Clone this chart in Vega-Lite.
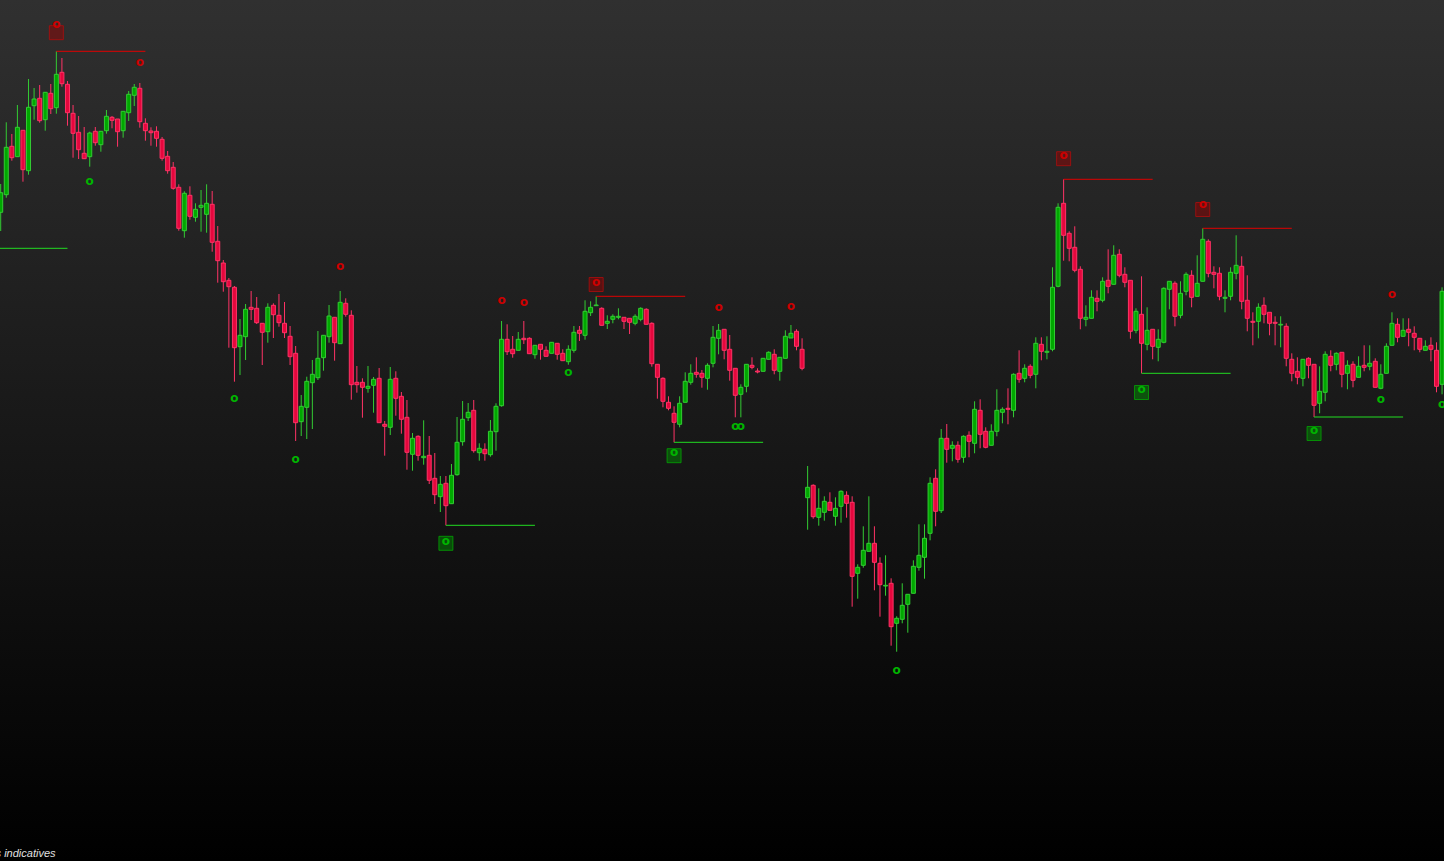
{
"$schema":"https://vega.github.io/schema/vega-lite/v6.json",
"width":1444,"height":861,"autosize":{"type":"none"},"padding":0,
"background":"#000000",
"view":{"stroke":null,"fill":{"gradient":"linear","x1":0,"y1":0,"x2":0,"y2":1,"stops":[{"offset":0,"color":"#303030"},{"offset":1,"color":"#000000"}]}},
"datasets":{
"candles":[
{"i":1,"o":787.7,"h":816,"l":769,"c":807.3},{"i":2,"o":805.3,"h":877.7,"l":802.3,"c":852.7},{"i":3,"o":853.7,"h":866,"l":839.3,"c":842.3},{"i":4,"o":843.3,"h":895,"l":843.3,"c":872.7},{"i":5,"o":869.7,"h":869.7,"l":818.3,"c":830.3},{"i":6,"o":829.3,"h":921,"l":825.3,"c":892.7},{"i":7,"o":894.3,"h":912,"l":880.3,"c":901},{"i":8,"o":901.7,"h":915,"l":877.3,"c":879.3},{"i":9,"o":880.3,"h":907.7,"l":869.3,"c":907.7},{"i":10,"o":906.7,"h":916,"l":886,"c":891.3},
{"i":11,"o":892.3,"h":948.7,"l":886.3,"c":925.7},{"i":12,"o":927.7,"h":942,"l":913.3,"c":916.3},{"i":13,"o":915.7,"h":919,"l":874.3,"c":887.3},{"i":14,"o":886.7,"h":895,"l":842.3,"c":866.7},{"i":15,"o":867.7,"h":884,"l":841,"c":850.3},{"i":16,"o":846.7,"h":873,"l":841.3,"c":841.3},{"i":17,"o":843.3,"h":868.3,"l":833.3,"c":867},{"i":18,"o":868.7,"h":873,"l":854.3,"c":857.3},{"i":19,"o":855.3,"h":868.7,"l":848.3,"c":868.7},{"i":20,"o":869.3,"h":890,"l":866.3,"c":883.7},
{"i":21,"o":882.7,"h":884,"l":871.7,"c":879.7},{"i":22,"o":881,"h":881,"l":853.3,"c":868.3},{"i":23,"o":869.3,"h":888.7,"l":862.3,"c":888.7},{"i":24,"o":887.3,"h":909,"l":879,"c":905.7},{"i":25,"o":904.7,"h":916,"l":894,"c":912.7},{"i":26,"o":911.7,"h":917,"l":872.3,"c":878.3},{"i":27,"o":876.7,"h":881.7,"l":859.3,"c":869.3},{"i":28,"o":869,"h":872.7,"l":854.3,"c":867.3},{"i":29,"o":868.7,"h":873.7,"l":853.3,"c":861.7},{"i":30,"o":860.7,"h":863,"l":839.3,"c":841.7},
{"i":31,"o":843.7,"h":849,"l":826.3,"c":829.3},{"i":32,"o":832.7,"h":838,"l":810.3,"c":811.7},{"i":33,"o":812.7,"h":815.7,"l":769.3,"c":771.7},{"i":34,"o":769.3,"h":808.7,"l":762.3,"c":806.7},{"i":35,"o":804.7,"h":813.7,"l":780.3,"c":783.7},{"i":36,"o":782.7,"h":796.7,"l":778.3,"c":790.7},{"i":37,"o":792.7,"h":810,"l":768.3,"c":794.7},{"i":38,"o":785.7,"h":815.7,"l":767.3,"c":796.7},{"i":39,"o":795.7,"h":809,"l":748.3,"c":757.7},{"i":40,"o":758.7,"h":774,"l":717.3,"c":739.3},
{"i":41,"o":737,"h":740,"l":708.3,"c":718.3},{"i":42,"o":719.7,"h":722,"l":652.3,"c":713.3},{"i":43,"o":712.7,"h":714,"l":618.3,"c":652.3},{"i":44,"o":653.3,"h":681,"l":625,"c":664.7},{"i":45,"o":663.3,"h":696,"l":640,"c":690.7},{"i":46,"o":692.7,"h":709,"l":680,"c":690.7},{"i":47,"o":691.7,"h":703,"l":676,"c":677.3},{"i":48,"o":676.7,"h":676.7,"l":635,"c":667.7},{"i":49,"o":668.3,"h":696.7,"l":657.3,"c":692.7},{"i":50,"o":694.7,"h":696.7,"l":662,"c":685.3},
{"i":51,"o":684.7,"h":706,"l":673.3,"c":677.3},{"i":52,"o":676.7,"h":698,"l":662,"c":667.3},{"i":53,"o":663.7,"h":674,"l":635,"c":643.3},{"i":54,"o":646.7,"h":654,"l":559,"c":577.3},{"i":55,"o":578.3,"h":605,"l":564,"c":593.7},{"i":56,"o":592.7,"h":623.3,"l":561,"c":618.7},{"i":57,"o":617.3,"h":640,"l":571,"c":625.7},{"i":58,"o":622.3,"h":669,"l":620,"c":641.7},{"i":59,"o":642.3,"h":664.7,"l":629.3,"c":664.7},{"i":60,"o":663.3,"h":695,"l":657.3,"c":684},
{"i":61,"o":682.7,"h":682.7,"l":639.3,"c":657.3},{"i":62,"o":656.3,"h":709,"l":656.3,"c":697.7},{"i":63,"o":696.7,"h":701.7,"l":683.3,"c":685.7},{"i":64,"o":684.7,"h":689.7,"l":600.3,"c":615.3},{"i":65,"o":617.7,"h":634,"l":607.3,"c":615.3},{"i":66,"o":617.7,"h":621.7,"l":582.3,"c":612.7},{"i":67,"o":611.7,"h":634,"l":607.3,"c":613.7},{"i":68,"o":614.7,"h":623,"l":587.3,"c":620.7},{"i":69,"o":621.7,"h":632,"l":577.3,"c":577.3},{"i":70,"o":575.7,"h":579,"l":544.3,"c":573.7},
{"i":71,"o":572.7,"h":633,"l":565,"c":620.7},{"i":72,"o":621.7,"h":628.7,"l":584.3,"c":601.7},{"i":73,"o":603.7,"h":608,"l":566.3,"c":580.7},{"i":74,"o":582.7,"h":600,"l":530.3,"c":547.7},{"i":75,"o":545.7,"h":567,"l":529.3,"c":561.7},{"i":76,"o":563.7,"h":564.7,"l":539.3,"c":544.7},{"i":77,"o":542.3,"h":579.7,"l":535.3,"c":543.7},{"i":78,"o":544.7,"h":564,"l":516,"c":519.7},{"i":79,"o":521.7,"h":547,"l":496,"c":505.3},{"i":80,"o":503.3,"h":524,"l":488,"c":515.7},
{"i":81,"o":516.7,"h":524,"l":474.7,"c":494.3},{"i":82,"o":496.3,"h":536,"l":496.3,"c":524.7},{"i":83,"o":525.3,"h":583,"l":524.3,"c":557.7},{"i":84,"o":558.3,"h":599,"l":554.3,"c":580.7},{"i":85,"o":582.3,"h":597,"l":579,"c":587.7},{"i":86,"o":589.7,"h":600,"l":547.3,"c":549.3},{"i":87,"o":547.3,"h":556.7,"l":539.3,"c":551.7},{"i":88,"o":550.7,"h":556.7,"l":539.3,"c":546.3},{"i":89,"o":545.3,"h":580,"l":543.3,"c":568.7},{"i":90,"o":568.3,"h":596.7,"l":549.3,"c":593.7},
{"i":91,"o":594.3,"h":679,"l":593.3,"c":660.7},{"i":92,"o":660.7,"h":675.7,"l":645,"c":648.3},{"i":93,"o":650.7,"h":664,"l":642.3,"c":646.3},{"i":94,"o":649.7,"h":668,"l":649.7,"c":660.7},{"i":95,"o":661.7,"h":679,"l":656,"c":660.3},{"i":96,"o":661.7,"h":662.7,"l":646.3,"c":646.3},{"i":97,"o":645.3,"h":654.7,"l":641.3,"c":654.7},{"i":98,"o":655.7,"h":655.7,"l":640.3,"c":650.7},{"i":99,"o":649.7,"h":653.7,"l":643.7,"c":643.7},{"i":100,"o":646.7,"h":657.7,"l":646.7,"c":657.7},
{"i":101,"o":656.7,"h":656.7,"l":640.3,"c":645.7},{"i":102,"o":646.7,"h":650.7,"l":639.3,"c":639.3},{"i":103,"o":638.3,"h":654.7,"l":635.3,"c":650.7},{"i":104,"o":649.7,"h":674,"l":647.3,"c":667.7},{"i":105,"o":669.7,"h":674,"l":659,"c":666.7},{"i":106,"o":664.7,"h":699.7,"l":660.3,"c":688.7},{"i":107,"o":687.3,"h":698.7,"l":684,"c":692.7},{"i":108,"o":694.3,"h":703.7,"l":694.3,"c":695},{"i":109,"o":691.7,"h":692.7,"l":674.7,"c":674.7},{"i":110,"o":676.7,"h":684.7,"l":671,"c":678.7},
{"i":111,"o":680.7,"h":685.7,"l":676.7,"c":683.7},{"i":112,"o":682.7,"h":691.7,"l":680.7,"c":683.7},{"i":113,"o":682.7,"h":682.7,"l":671,"c":678.7},{"i":114,"o":681.7,"h":681.7,"l":666,"c":677.7},{"i":115,"o":676.7,"h":685.7,"l":674.7,"c":683.7},{"i":116,"o":680.7,"h":692.7,"l":678.7,"c":691.7},{"i":117,"o":690.7,"h":691.7,"l":675.7,"c":675.7},{"i":118,"o":676.7,"h":677.7,"l":633.3,"c":636.3},{"i":119,"o":635.7,"h":635.7,"l":601.3,"c":622.7},{"i":120,"o":621.7,"h":622.7,"l":592.7,"c":598.7},
{"i":121,"o":597.7,"h":603.7,"l":589.7,"c":591.7},{"i":122,"o":586.7,"h":593.7,"l":557.7,"c":577.7},{"i":123,"o":575.7,"h":603.7,"l":572.7,"c":596.7},{"i":124,"o":597.7,"h":627.7,"l":597.7,"c":618.7},{"i":125,"o":617.7,"h":635.7,"l":615.3,"c":626.7},{"i":126,"o":627.7,"h":642.7,"l":622.3,"c":625.7},{"i":127,"o":626.7,"h":630,"l":612.3,"c":622.7},{"i":128,"o":621.7,"h":636.7,"l":610.3,"c":634.7},{"i":129,"o":636.7,"h":674,"l":632.7,"c":662.7},{"i":130,"o":661.7,"h":676,"l":645.7,"c":669.7},
{"i":131,"o":670.7,"h":670.7,"l":640.7,"c":649.7},{"i":132,"o":650.7,"h":665,"l":619.3,"c":629.7},{"i":133,"o":631.7,"h":631.7,"l":582.7,"c":604.7},{"i":134,"o":605.7,"h":615.7,"l":582.7,"c":612.7},{"i":135,"o":613.7,"h":635.7,"l":607.7,"c":635.7},{"i":136,"o":634.7,"h":642.7,"l":630.7,"c":632.7},{"i":137,"o":629,"h":631.7,"l":626.7,"c":628},{"i":138,"o":628.7,"h":641.7,"l":628.7,"c":641.7},{"i":139,"o":640.7,"h":648.7,"l":640.7,"c":647.7},{"i":140,"o":645.7,"h":650.7,"l":625.7,"c":629.7},
{"i":141,"o":628.7,"h":642.7,"l":619.3,"c":642.7},{"i":142,"o":641.7,"h":669.7,"l":641.7,"c":663.7},{"i":143,"o":662,"h":675,"l":662,"c":666.7},{"i":144,"o":668.7,"h":670.7,"l":649.7,"c":653.7},{"i":145,"o":650.7,"h":661.7,"l":629.7,"c":631.7},{"i":146,"o":502.3,"h":534,"l":470.3,"c":512.7},{"i":147,"o":514.7,"h":515.7,"l":481.3,"c":483.3},{"i":148,"o":482.7,"h":511.7,"l":474.3,"c":491.7},{"i":149,"o":487.7,"h":503.7,"l":479.3,"c":498.7},{"i":150,"o":497.7,"h":507.7,"l":489.7,"c":489.7},
{"i":151,"o":483.7,"h":502.7,"l":474.3,"c":491.7},{"i":152,"o":493.7,"h":509.7,"l":477.3,"c":508.7},{"i":153,"o":504.7,"h":508.7,"l":482.3,"c":496.7},{"i":154,"o":497.7,"h":503.7,"l":393.3,"c":423.7},{"i":155,"o":426.7,"h":435.7,"l":401.3,"c":432.7},{"i":156,"o":434.7,"h":473.7,"l":432.3,"c":449.7},{"i":157,"o":448.7,"h":503.7,"l":448.7,"c":456.7},{"i":158,"o":456.7,"h":473.7,"l":409.7,"c":437.7},{"i":159,"o":436.7,"h":442.7,"l":383.3,"c":415.3},{"i":160,"o":414,"h":444.7,"l":404.3,"c":414.7},
{"i":161,"o":416.7,"h":421.7,"l":354.3,"c":373.3},{"i":162,"o":376.7,"h":383.7,"l":348.3,"c":381.7},{"i":163,"o":380.7,"h":416.7,"l":376.7,"c":394.7},{"i":164,"o":395.7,"h":405.7,"l":367.3,"c":405.7},{"i":165,"o":406.7,"h":439.7,"l":406.7,"c":433.7},{"i":166,"o":432.7,"h":475.7,"l":429.3,"c":444.7},{"i":167,"o":442.7,"h":475.7,"l":421.3,"c":461.7},{"i":168,"o":466.7,"h":522.7,"l":459.7,"c":516.7},{"i":169,"o":521.7,"h":530.7,"l":473.7,"c":488.7},{"i":170,"o":489.3,"h":571,"l":487,"c":561.7},
{"i":171,"o":561.7,"h":576,"l":537.3,"c":550.7},{"i":172,"o":551.7,"h":558.7,"l":538.7,"c":554.7},{"i":173,"o":554.7,"h":558.7,"l":537.3,"c":540.7},{"i":174,"o":542.7,"h":564.7,"l":537.3,"c":563.7},{"i":175,"o":564.7,"h":568.7,"l":542.7,"c":558.7},{"i":176,"o":556.7,"h":598.7,"l":546.7,"c":590.7},{"i":177,"o":589.7,"h":600.7,"l":551.7,"c":565.7},{"i":178,"o":568.7,"h":572.7,"l":551.7,"c":552.7},{"i":179,"o":554.7,"h":575.7,"l":554.7,"c":568.7},{"i":180,"o":568.7,"h":610.7,"l":563.7,"c":589.7},
{"i":181,"o":587.7,"h":592.7,"l":576.7,"c":590.7},{"i":182,"o":591.7,"h":611.7,"l":575.7,"c":590.7},{"i":183,"o":589.7,"h":626.7,"l":582.7,"c":625.7},{"i":184,"o":626.7,"h":649.7,"l":617.3,"c":620.7},{"i":185,"o":621.7,"h":635.7,"l":617.7,"c":631.7},{"i":186,"o":633.7,"h":635.7,"l":621.7,"c":624.7},{"i":187,"o":625.7,"h":662.7,"l":611.7,"c":656.7},{"i":188,"o":655.7,"h":662.7,"l":639.7,"c":648.7},{"i":189,"o":647.7,"h":663.7,"l":640.7,"c":648.7},{"i":190,"o":650.7,"h":732.7,"l":648.7,"c":712.7},
{"i":191,"o":713.7,"h":796.7,"l":712.7,"c":792.7},{"i":192,"o":796.7,"h":820.7,"l":739.3,"c":764.7},{"i":193,"o":766.7,"h":768.7,"l":738.7,"c":751.7},{"i":194,"o":752.7,"h":773.7,"l":727.7,"c":729.7},{"i":195,"o":730.7,"h":733.7,"l":670.7,"c":681.7},{"i":196,"o":680.7,"h":694.7,"l":673.7,"c":682.7},{"i":197,"o":681.7,"h":709.7,"l":681.7,"c":702.7},{"i":198,"o":701.7,"h":709.7,"l":688.7,"c":698.7},{"i":199,"o":699.7,"h":722.7,"l":697.7,"c":718.7},{"i":200,"o":719.7,"h":750.7,"l":706.7,"c":713.7},
{"i":201,"o":715.7,"h":754.7,"l":715.7,"c":744.7},{"i":202,"o":745.7,"h":750.7,"l":722.7,"c":724.7},{"i":203,"o":725.7,"h":732.7,"l":712.7,"c":717.7},{"i":204,"o":719.7,"h":719.7,"l":661.3,"c":668.7},{"i":205,"o":669.7,"h":691.7,"l":666.7,"c":688.7},{"i":206,"o":685.7,"h":723.7,"l":626.7,"c":656.7},{"i":207,"o":655.7,"h":692.7,"l":649.7,"c":669.7},{"i":208,"o":670.7,"h":670.7,"l":640.7,"c":653.7},{"i":209,"o":652.7,"h":670.7,"l":638.7,"c":660.7},{"i":210,"o":657.7,"h":712.7,"l":656.7,"c":711.7},
{"i":211,"o":710.7,"h":718.7,"l":690.7,"c":718.7},{"i":212,"o":716.7,"h":718.7,"l":673.7,"c":683.7},{"i":213,"o":684.7,"h":718.7,"l":681.7,"c":706.7},{"i":214,"o":708.7,"h":727.7,"l":704.7,"c":725.7},{"i":215,"o":724.7,"h":729.7,"l":692.7,"c":702.7},{"i":216,"o":703.7,"h":744.7,"l":703.7,"c":716.7},{"i":217,"o":718.7,"h":771.7,"l":718.7,"c":760.7},{"i":218,"o":758.7,"h":760.7,"l":722.7,"c":726.7},{"i":219,"o":727.7,"h":733.7,"l":711.7,"c":725.7},{"i":220,"o":726.7,"h":732.7,"l":699.7,"c":703.7},
{"i":221,"o":701.7,"h":709.7,"l":687.7,"c":702.7},{"i":222,"o":703.7,"h":732.7,"l":699.7,"c":727.7},{"i":223,"o":726.7,"h":764.7,"l":720.7,"c":734.7},{"i":224,"o":733.7,"h":743.7,"l":690.7,"c":698.7},{"i":225,"o":699.7,"h":724.7,"l":668.7,"c":681.7},{"i":226,"o":678.7,"h":687.7,"l":654.7,"c":677.7},{"i":227,"o":678.7,"h":696.7,"l":661.7,"c":692.7},{"i":228,"o":694.7,"h":702.7,"l":676.7,"c":685.7},{"i":229,"o":687.7,"h":687.7,"l":664.7,"c":676.7},{"i":230,"o":677.7,"h":683.7,"l":654.7,"c":676.7},
{"i":231,"o":675,"h":683.7,"l":652.7,"c":675.7},{"i":232,"o":673.7,"h":676.7,"l":633.7,"c":641.7},{"i":233,"o":640.7,"h":646.7,"l":618.7,"c":626.7},{"i":234,"o":628.7,"h":642.7,"l":615.7,"c":622.7},{"i":235,"o":621.7,"h":640.7,"l":613.7,"c":640.7},{"i":236,"o":641.7,"h":642.7,"l":621.7,"c":634.7},{"i":237,"o":635.7,"h":635.7,"l":583,"c":594.7},{"i":238,"o":596.7,"h":633.7,"l":586.7,"c":608.7},{"i":239,"o":607.7,"h":648.7,"l":598.7,"c":645.7},{"i":240,"o":643.7,"h":649.7,"l":628.7,"c":634.7},
{"i":241,"o":635.7,"h":647.7,"l":629.7,"c":646.7},{"i":242,"o":647.7,"h":647.7,"l":612.7,"c":625.7},{"i":243,"o":626.7,"h":639.7,"l":610.7,"c":634.7},{"i":244,"o":635.7,"h":638.7,"l":612.7,"c":619.7},{"i":245,"o":622.7,"h":643.7,"l":622.7,"c":633.7},{"i":246,"o":634.7,"h":654.7,"l":628.7,"c":632.7},{"i":247,"o":633.7,"h":654.7,"l":629.7,"c":636.7},{"i":248,"o":638.7,"h":641.7,"l":612.7,"c":612.7},{"i":249,"o":611.7,"h":635.7,"l":610.7,"c":625.7},{"i":250,"o":626.7,"h":656.7,"l":626.7,"c":653.7},
{"i":251,"o":654.7,"h":687.7,"l":654.7,"c":676.7},{"i":252,"o":675.7,"h":681.7,"l":657.7,"c":662.7},{"i":253,"o":663.7,"h":681.7,"l":663.7,"c":669.7},{"i":254,"o":670.7,"h":681.7,"l":653.7,"c":667.7},{"i":255,"o":666.7,"h":673.7,"l":649.7,"c":662.7},{"i":256,"o":661.7,"h":661.7,"l":647.7,"c":650.7},{"i":257,"o":649.7,"h":659.7,"l":649.7,"c":653.7},{"i":258,"o":654.7,"h":662.7,"l":638.7,"c":650.7},{"i":259,"o":649.7,"h":657.7,"l":607.7,"c":613.7},{"i":260,"o":615.7,"h":712.7,"l":605.7,"c":708.7}
],
"lines":[
{"i1":-3,"i2":13,"p":751.7,"side":"lo"},{"i1":11,"i2":27,"p":948.7,"side":"hi"},{"i1":81,"i2":97,"p":474.7,"side":"lo"},{"i1":108,"i2":124,"p":703.7,"side":"hi"},{"i1":122,"i2":138,"p":557.7,"side":"lo"},{"i1":192,"i2":208,"p":820.7,"side":"hi"},{"i1":206,"i2":222,"p":626.7,"side":"lo"},{"i1":217,"i2":233,"p":771.7,"side":"hi"},{"i1":237,"i2":253,"p":583,"side":"lo"}
],
"boxes":[
{"i":11,"p":967.3,"side":"hi"},{"i":108,"p":715.5,"side":"hi"},{"i":192,"p":841.3,"side":"hi"},{"i":217,"p":790.5,"side":"hi"},{"i":81,"p":456.7,"side":"lo"},{"i":122,"p":544.3,"side":"lo"},{"i":206,"p":607.5,"side":"lo"},{"i":237,"p":566.5,"side":"lo"}
],
"marks":[
{"i":11,"p":975.7,"side":"hi"},{"i":26,"p":937.7,"side":"hi"},{"i":62,"p":733.7,"side":"hi"},{"i":91,"p":699.7,"side":"hi"},{"i":95,"p":697.7,"side":"hi"},{"i":108,"p":718.3,"side":"hi"},{"i":130,"p":692.7,"side":"hi"},{"i":143,"p":693.7,"side":"hi"},{"i":192,"p":845,"side":"hi"},{"i":217,"p":795.7,"side":"hi"},{"i":251,"p":705.7,"side":"hi"},
{"i":17,"p":818.7,"side":"lo"},{"i":43,"p":601.7,"side":"lo"},{"i":54,"p":540.7,"side":"lo"},{"i":81,"p":458.7,"side":"lo"},{"i":103,"p":627.7,"side":"lo"},{"i":122,"p":548.3,"side":"lo"},{"i":133,"p":573.7,"side":"lo"},{"i":134,"p":573.7,"side":"lo"},{"i":162,"p":329.7,"side":"lo"},{"i":206,"p":610.7,"side":"lo"},{"i":237,"p":569.7,"side":"lo"},{"i":249,"p":600.7,"side":"lo"},{"i":260,"p":595.7,"side":"lo"}
],
"note":[{"i":10.85,"p":146,"t":"Données indicatives"}]
},
"layer":[
{"data":{"name":"candles"},"mark":{"type":"rule","strokeWidth":1},
 "encoding":{"x":{"field":"i","type":"quantitative","scale":{"domain":[0.874,260.35],"nice":false,"zero":false,"padding":0},"axis":null},
 "y":{"field":"l","type":"quantitative","scale":{"domain":[139,1000],"nice":false,"zero":false,"padding":0},"axis":null},"y2":{"field":"h"},
 "color":{"condition":{"test":"datum.c >= datum.o","value":"#33cc33"},"value":"#ff3366"}}},
{"data":{"name":"candles"},"mark":{"type":"bar","size":4,"strokeWidth":1,"orient":"vertical"},
 "encoding":{"x":{"field":"i","type":"quantitative","scale":{"domain":[0.874,260.35],"nice":false,"zero":false,"padding":0},"axis":null},
 "y":{"field":"o","type":"quantitative","scale":{"domain":[139,1000],"nice":false,"zero":false,"padding":0},"axis":null},"y2":{"field":"c"},
 "fill":{"condition":{"test":"datum.c >= datum.o","value":"#00a800"},"value":"#e5073d"},
 "stroke":{"condition":{"test":"datum.c >= datum.o","value":"#33cc33"},"value":"#ff3366"}}},
{"data":{"name":"lines"},"mark":{"type":"rule","strokeWidth":1,"clip":true},
 "encoding":{"x":{"field":"i1","type":"quantitative","scale":{"domain":[0.874,260.35],"nice":false,"zero":false,"padding":0},"axis":null},"x2":{"field":"i2"},
 "y":{"field":"p","type":"quantitative","scale":{"domain":[139,1000],"nice":false,"zero":false,"padding":0},"axis":null},
 "color":{"condition":{"test":"datum.side == 'hi'","value":"#e00000"},"value":"#22dd22"}}},
{"data":{"name":"boxes"},"mark":{"type":"square","size":196,"strokeWidth":1,"filled":true,"opacity":1},
 "encoding":{"x":{"field":"i","type":"quantitative","scale":{"domain":[0.874,260.35],"nice":false,"zero":false,"padding":0},"axis":null},
 "y":{"field":"p","type":"quantitative","scale":{"domain":[139,1000],"nice":false,"zero":false,"padding":0},"axis":null},
 "fill":{"condition":{"test":"datum.side == 'hi'","value":"rgba(160,0,0,0.45)"},"value":"rgba(0,150,0,0.45)"},
 "stroke":{"condition":{"test":"datum.side == 'hi'","value":"rgba(190,10,10,0.7)"},"value":"rgba(0,180,0,0.7)"}}},
{"data":{"name":"marks"},"mark":{"type":"text","text":"o","fontSize":12,"fontWeight":"bold","font":"DejaVu Sans","baseline":"middle","align":"center"},
 "encoding":{"x":{"field":"i","type":"quantitative","scale":{"domain":[0.874,260.35],"nice":false,"zero":false,"padding":0},"axis":null},
 "y":{"field":"p","type":"quantitative","scale":{"domain":[139,1000],"nice":false,"zero":false,"padding":0},"axis":null},
 "color":{"condition":{"test":"datum.side == 'hi'","value":"#cc0000"},"value":"#00b400"}}},
{"data":{"name":"note"},"mark":{"type":"text","fontSize":11,"fontStyle":"italic","font":"Liberation Sans","baseline":"middle","align":"right","color":"#e0e0e0"},
 "encoding":{"x":{"field":"i","type":"quantitative","scale":{"domain":[0.874,260.35],"nice":false,"zero":false,"padding":0},"axis":null},
 "y":{"field":"p","type":"quantitative","scale":{"domain":[139,1000],"nice":false,"zero":false,"padding":0},"axis":null},
 "text":{"field":"t"}}}
]
}
